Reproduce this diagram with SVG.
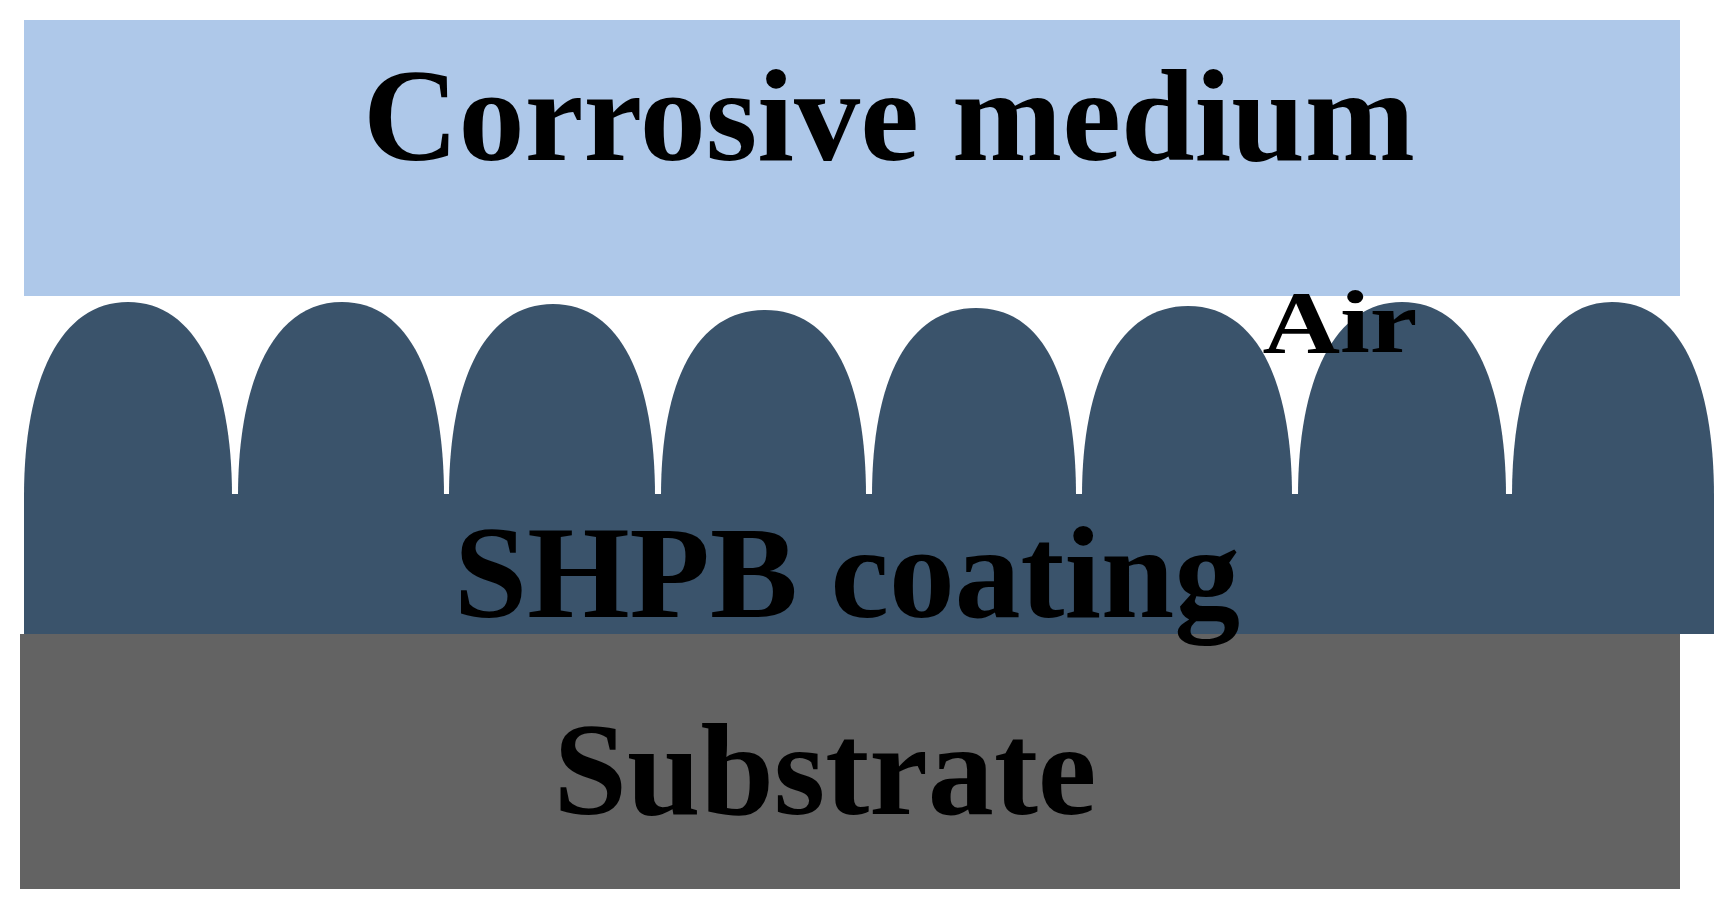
<svg xmlns="http://www.w3.org/2000/svg" width="1735" height="911" viewBox="0 0 1735 911">
<style>
text{font-family:"Liberation Serif","Times New Roman",serif;font-weight:bold;fill:#000}
.bump{fill:#3a536b}
</style>
<rect width="1735" height="911" fill="#fff"/>
<g id="medium"><rect x="24" y="20" width="1656" height="276" fill="#aec8e9"/>
<text x="889" y="160" font-size="132" text-anchor="middle" textLength="1052" lengthAdjust="spacingAndGlyphs">Corrosive medium</text></g>
<g id="substrate"><rect x="20" y="634" width="1660" height="255" fill="#636363"/>
<text x="825" y="814" font-size="132" text-anchor="middle" textLength="543" lengthAdjust="spacingAndGlyphs">Substrate</text></g>
<g id="coating">
<rect class="bump" x="24" y="494" width="1690" height="140"/>
<path class="bump" d="M24,496 C24,380 60,302 128,302 C196,302 232,380 232,496 Z"/>
<path class="bump" d="M238,496 C238,380 274,302 342,302 C410,302 444,380 444,496 Z"/>
<path class="bump" d="M449,496 C449,380 485,304 553,304 C621,304 655,380 655,496 Z"/>
<path class="bump" d="M661,496 C661,380 697,310 765,310 C833,310 866,380 866,496 Z"/>
<path class="bump" d="M872,496 C872,380 908,308 976,308 C1044,308 1076,380 1076,496 Z"/>
<path class="bump" d="M1082,496 C1082,380 1120,306 1188,306 C1256,306 1292,380 1292,496 Z"/>
<path class="bump" d="M1298,496 C1298,380 1334,302 1402,302 C1470,302 1506,380 1506,496 Z"/>
<path class="bump" d="M1512,496 C1512,380 1546,302 1612,302 C1680,302 1714,380 1714,496 Z"/>
<text x="847" y="617" font-size="132" text-anchor="middle" textLength="786" lengthAdjust="spacingAndGlyphs">SHPB coating</text>
</g>
<g id="air"><text x="1340" y="352" font-size="88" text-anchor="middle" textLength="155" lengthAdjust="spacingAndGlyphs">Air</text></g>
<g id="connectors"/>
</svg>
